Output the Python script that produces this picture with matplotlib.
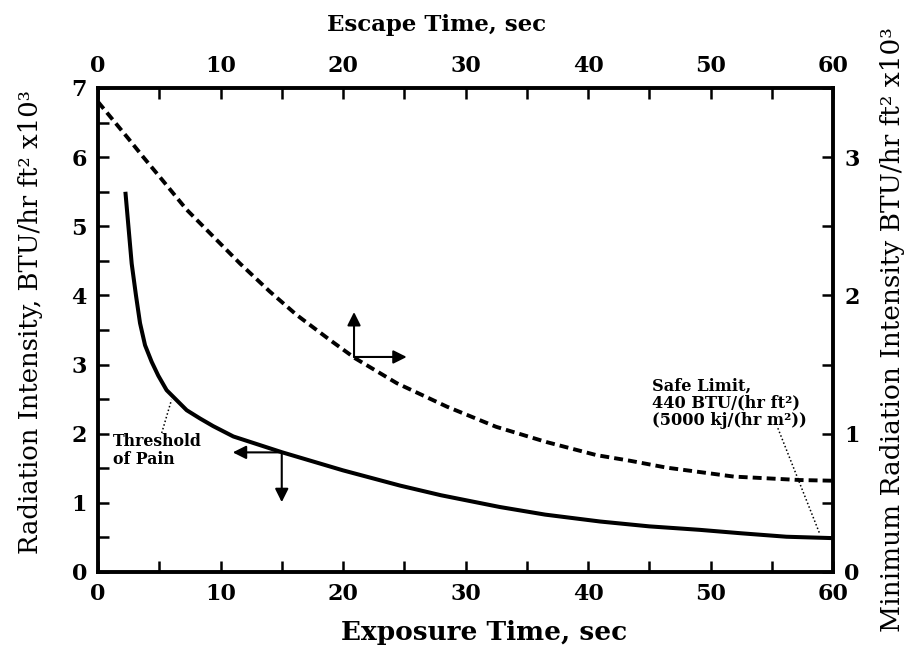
import matplotlib
matplotlib.use("Agg")
import matplotlib.pyplot as plt
from matplotlib.ticker import MultipleLocator

# Threshold of pain: exposure time (s) vs radiation intensity (x10^3 BTU/hr ft2)
exposure_time = [2.25, 2.75, 3.1, 3.43, 3.84, 4.38, 4.92, 5.6, 7.24, 8.33, 9.4, 11.05, 15.05, 20.0,
                 24.65, 28.0, 32.8, 36.5, 41.0, 45.0, 49.1, 52.5, 56.2, 60.0]
pain_intensity = [5.47, 4.46, 4.0, 3.60, 3.28, 3.04, 2.84, 2.63, 2.34, 2.22, 2.11, 1.96, 1.73, 1.47,
                  1.25, 1.11, 0.94, 0.83, 0.73, 0.66, 0.61, 0.56, 0.51, 0.49]

# Escape time (s) vs minimum radiation intensity (right scale, x10^3 BTU/hr ft2)
escape_time = [0.0, 2.47, 3.7, 5.2, 7.24, 11.6, 14.0, 16.2, 18.9, 21.0, 24.4, 28.5, 32.5,
               36.6, 40.7, 43.4, 46.4, 51.9, 57.3, 60.0]
min_intensity = [3.40, 3.135, 3.00, 2.84, 2.62, 2.23, 2.03, 1.86, 1.68, 1.545, 1.365, 1.195, 1.05,
                 0.94, 0.845, 0.805, 0.755, 0.69, 0.665, 0.66]

SERIF = "DejaVu Serif"
plt.rcParams["font.family"] = SERIF

fig = plt.figure(figsize=(9.09, 6.47), dpi=100)
pos = [98 / 909, 1 - 572 / 647, 735 / 909, 484 / 647]
ax = fig.add_axes(pos)
ax2 = fig.add_axes(pos, frameon=False)

ax.plot(exposure_time, pain_intensity, color="black", lw=2.9, solid_joinstyle="round")
ax2.plot(escape_time, min_intensity, color="black", lw=2.8, ls=(0, (2.3, 1.3)))

ax.set_xlim(0, 60)
ax.set_ylim(0, 7)
ax2.set_xlim(0, 60)
ax2.set_ylim(0, 3.5)

ax2.xaxis.tick_top()
ax2.yaxis.tick_right()

for a in (ax, ax2):
    a.xaxis.set_major_locator(MultipleLocator(10))
    a.xaxis.set_minor_locator(MultipleLocator(5))
    a.yaxis.set_major_locator(MultipleLocator(1))
    a.tick_params(which="both", direction="in", length=8, width=1.8, labelsize=16, pad=8)
    for lab in a.get_xticklabels() + a.get_yticklabels():
        lab.set_fontweight("bold")
ax.yaxis.set_minor_locator(MultipleLocator(0.5))
ax2.yaxis.set_minor_locator(MultipleLocator(0.5))

for s in ax.spines.values():
    s.set_linewidth(2.8)

ax.set_xlabel("Exposure Time, sec", fontsize=19, fontweight="bold")
ax.xaxis.label.set_va("center")
ax.xaxis.set_label_coords(0.525, -0.124)

ax.set_ylabel("Radiation Intensity, BTU/hr ft\u00b2 x10\u00b3", fontsize=18.6)
ax.yaxis.label.set_va("center")
ax.yaxis.set_label_coords(-0.0925, 0.517)

ax2.xaxis.set_label_position("top")
ax2.set_xlabel("Escape Time, sec", fontsize=16.5, fontweight="bold")
ax2.xaxis.label.set_va("center")
ax2.xaxis.set_label_coords(0.461, 1.130)

ax2.yaxis.set_label_position("right")
ax2.set_ylabel("Minimum Radiation Intensity BTU/hr ft\u00b2 x10\u00b3", fontsize=19.0, rotation=90)
ax2.yaxis.label.set_va("center")
ax2.yaxis.set_label_coords(1.0816, 0.5)

# direction arrows
arr = dict(arrowstyle="-|>", color="black", lw=1.5, mutation_scale=20, shrinkA=0, shrinkB=0)
ax.annotate("", xy=(20.9, 3.76), xytext=(20.9, 3.11), arrowprops=arr)
ax.annotate("", xy=(25.2, 3.11), xytext=(20.9, 3.11), arrowprops=arr)
ax.annotate("", xy=(11.0, 1.73), xytext=(15.0, 1.73), arrowprops=arr)
ax.annotate("", xy=(15.0, 1.01), xytext=(15.0, 1.73), arrowprops=arr)

# annotations
ax.text(1.22, 1.76, "Threshold\nof Pain", fontsize=11.3, fontweight="bold",
        ha="left", va="center", linespacing=1.1)
ax.plot([5.2, 6.0], [2.01, 2.49], color="black", lw=1.1, ls=(0, (1, 1.5)))

ax.text(45.2, 2.44, "Safe Limit,\n440 BTU/(hr ft\u00b2)\n(5000 kj/(hr m\u00b2))", fontsize=11.7,
        fontweight="bold", ha="left", va="center", linespacing=1.0)
ax.plot([55.5, 58.9], [2.08, 0.56], color="black", lw=1.1, ls=(0, (1, 1.5)))

fig.savefig("out.png", dpi=100)
